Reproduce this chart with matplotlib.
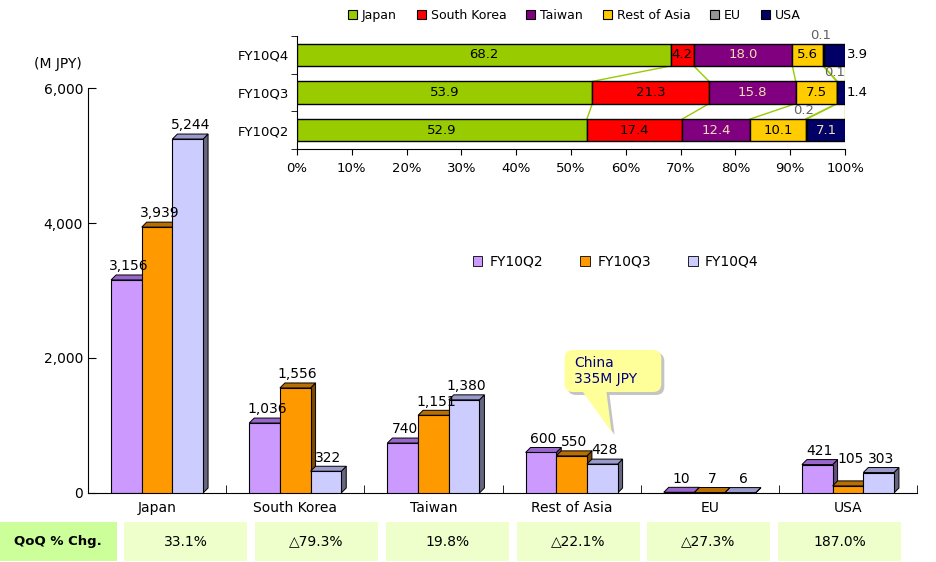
import numpy as np
import matplotlib.pyplot as plt
from matplotlib.patches import Patch, Rectangle, FancyBboxPatch, Polygon

plt.rcParams['font.family'] = ['DejaVu Sans']

# main chart data (M JPY)
regions = ["Japan", "South Korea", "Taiwan", "Rest of Asia", "EU", "USA"]
quarters = ["FY10Q2", "FY10Q3", "FY10Q4"]
q2 = [3156, 1036, 740, 600, 10, 421]
q3 = [3939, 1556, 1151, 550, 7, 105]
q4 = [5244, 322, 1380, 428, 6, 303]
qoq = ["33.1%", "△79.3%", "19.8%", "△22.1%", "△27.3%", "187.0%"]

# share (%) inset, bottom to top
share_quarters = ["FY10Q2", "FY10Q3", "FY10Q4"]
share_japan = [52.9, 53.9, 68.2]
share_korea = [17.4, 21.3, 4.2]
share_taiwan = [12.4, 15.8, 18.0]
share_rest = [10.1, 7.5, 5.6]
share_eu = [0.2, 0.1, 0.1]
share_usa = [7.1, 1.4, 3.9]

fig = plt.figure(figsize=(9.37, 5.62), dpi=100)
fig.patch.set_facecolor("white")

ax = fig.add_axes([0.0939, 0.1228, 0.8848, 0.7206])
ax.set_xlim(-0.5, 5.5)
ax.set_ylim(0, 6000)

front = ["#CC99FF", "#FF9900", "#CCCCFF"]
top_c = ["#9966CC", "#B86E00", "#9999CC"]
side_c = ["#664D80", "#7A4A00", "#666680"]

w = 0.222
dx = 0.036
dy = 74
x = np.arange(len(regions))
series = [q2, q3, q4]
# the 105 label sits higher in the original, clear of the 303 bar
lift = {(5, 1): 200}

z = 2
for i in range(len(regions)):
    for k, vals in enumerate(series):
        h = vals[i]
        x0 = x[i] + (k - 1) * w - w / 2
        x1 = x0 + w
        ax.fill([x1, x1 + dx, x1 + dx, x1], [0, dy, h + dy, h],
                fc=side_c[k], ec="black", lw=0.7, zorder=z)
        ax.fill([x0, x0 + dx, x1 + dx, x1], [h, h + dy, h + dy, h],
                fc=top_c[k], ec="black", lw=0.7, zorder=z)
        ax.add_patch(Rectangle((x0, 0), w, h, fc=front[k], ec="black",
                               lw=0.8, zorder=z + 0.5))
        z += 1
        ax.text(x0 + w / 2 + dx / 2, h + dy + 25 + lift.get((i, k), 0),
                f"{h:,}", ha="center", va="bottom", fontsize=10, zorder=50)

for s in ["top", "right"]:
    ax.spines[s].set_visible(False)
ax.set_yticks([0, 2000, 4000, 6000])
ax.set_yticklabels(["0", "2,000", "4,000", "6,000"], fontsize=10)
ax.set_xticks(x)
ax.set_xticklabels(regions, fontsize=10)
ax.set_xticks(np.arange(0.5, 6, 1), minor=True)
ax.tick_params(axis="x", which="major", length=0, pad=6)
ax.tick_params(axis="x", which="minor", direction="in", length=6)
ax.tick_params(axis="y", direction="in", length=6)

fig.text(58 / 937, 1 - 64 / 562, "(M JPY)", ha="center", va="center", fontsize=10)

handles = [Patch(fc=front[k], ec="black", lw=0.6) for k in range(3)]
fig.legend(handles, quarters, loc="center", bbox_to_anchor=(0.657, 0.534),
           ncol=3, frameon=False, fontsize=10, handlelength=0.7,
           handleheight=0.7, columnspacing=2.7, handletextpad=0.5)

# callout bubble with shadow
asp = (6000 / 405) / (6 / 830)
for off, col, zz in [((0.022, -44), "#C4C4C4", 58), ((0, 0), "#FFFF99", 59)]:
    ox, oy = off
    ax.add_patch(FancyBboxPatch((2.949 + ox, 1496 + oy), 0.70, 623,
                                boxstyle="round,pad=0,rounding_size=0.06",
                                mutation_aspect=asp, fc=col, ec="none",
                                zorder=zz))
    ax.add_patch(Polygon([(3.07 + ox, 1530 + oy), (3.25 + ox, 1530 + oy),
                          (3.289 + ox, 905 + oy)], closed=True, fc=col,
                         ec="none", zorder=zz))
ax.text(3.02, 1807, "China\n335M JPY", ha="left", va="center", fontsize=10,
        color="#000080", linespacing=1.15, zorder=61)

# share inset
ax2 = fig.add_axes([297 / 937, 1 - 149 / 562, 548 / 937, 113 / 562])
ax2.set_xlim(0, 100)
ax2.set_ylim(-0.5, 2.5)
shares = [share_japan, share_korea, share_taiwan, share_rest, share_eu, share_usa]
names = ["Japan", "South Korea", "Taiwan", "Rest of Asia", "EU", "USA"]
colors = ["#99CC00", "#FF0000", "#800080", "#FFCC00", "#969696", "#000066"]
txt_c = ["black", "black", "#F0DFB0", "black", "#606060", "#F0DFB0"]
bh = 0.59
yy = np.arange(3)
left = np.zeros(3)
bounds = []
for j, vals in enumerate(shares):
    vals = np.array(vals)
    ax2.barh(yy, vals, left=left, height=bh, color=colors[j], ec="black",
             lw=1, label=names[j], zorder=3)
    for r in range(3):
        v = vals[r]
        cx = left[r] + v / 2
        if names[j] == "EU":
            ax2.text(cx - 0.5, r + 0.52, f"{v:.1f}", ha="center", va="center",
                     fontsize=9.5, color="#606060", zorder=5, clip_on=False)
        elif names[j] == "USA" and v < 5:
            ax2.text(100.3, r, f"{v:.1f}", ha="left", va="center",
                     fontsize=9.5, color="black", zorder=5, clip_on=False)
        else:
            ax2.text(cx, r, f"{v:.1f}", ha="center", va="center",
                     fontsize=9.5, color=txt_c[j], zorder=5)
    left = left + vals
    bounds.append(left.copy())

# series lines between bars
for b in bounds:
    for r in range(2):
        ax2.plot([min(b[r], 100), min(b[r + 1], 100)],
                 [r + bh / 2, r + 1 - bh / 2], color="#99CC00", lw=1, zorder=2)

for s in ["top", "right"]:
    ax2.spines[s].set_visible(False)
ax2.set_xticks(np.arange(0, 101, 10))
ax2.set_xticklabels([f"{t}%" for t in range(0, 101, 10)], fontsize=9.5)
ax2.tick_params(axis="x", length=4, pad=5)
ax2.set_yticks(yy)
ax2.set_yticklabels(share_quarters, fontsize=9.5)
ax2.set_yticks(np.arange(-0.5, 2.6, 1), minor=True)
ax2.tick_params(axis="y", which="major", length=0, pad=6)
ax2.tick_params(axis="y", which="minor", length=4)

h2 = [Patch(fc=c, ec="black", lw=0.8) for c in colors]
fig.legend(h2, names, loc="center", bbox_to_anchor=(0.613, 0.973), ncol=6,
           frameon=False, fontsize=9, handlelength=0.7, handleheight=0.7,
           columnspacing=1.6, handletextpad=0.4)

# QoQ table
ty0 = 1 - 561 / 562
th = 39 / 562
fig.patches.append(Rectangle((0, ty0), 117 / 937, th, fc="#CCFF99", ec="none",
                             transform=fig.transFigure))
fig.text(58 / 937, ty0 + th / 2, "QoQ % Chg.", ha="center", va="center",
         fontsize=9.5, fontweight="bold")
cell_x = [124, 255, 386, 517, 647, 778]
for cx, t in zip(cell_x, qoq):
    fig.patches.append(Rectangle((cx / 937, ty0), 123 / 937, th, fc="#EEFFCC",
                                 ec="none", transform=fig.transFigure))
    fig.text((cx + 61.5) / 937, ty0 + th / 2, t, ha="center", va="center",
             fontsize=10)

fig.savefig("out.png", dpi=100)
